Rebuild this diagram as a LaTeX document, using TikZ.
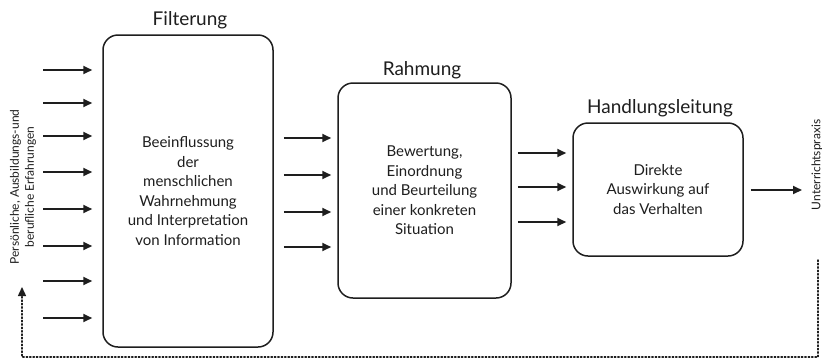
\documentclass[tikz,border=0pt]{standalone}
\usepackage{fontspec}
\setmainfont{Lato}
\usetikzlibrary{arrows.meta}
\definecolor{ink}{HTML}{1E1E1E}
\tikzset{
  stage/.style={draw=ink, line width=1.5pt, rounded corners=15pt, align=center,
    font=\fontsize{15}{19.5}\selectfont, text=ink, inner sep=0pt},
  title/.style={font=\fontsize{19}{22}\selectfont, text=ink},
  side/.style={font=\fontsize{12}{15}\selectfont, text=ink, align=center, rotate=90},
  arr/.style={draw=ink, line width=1.8pt, -{Triangle[length=9pt,width=8pt]}},
  fb/.style={draw=ink, line width=1.4pt, dotted, line cap=round, -{Triangle[length=9pt,width=8pt]}},
}
\begin{document}
\begin{tikzpicture}[x=1pt,y=-1pt]
\useasboundingbox (0,0) rectangle (822,360);
\fill[white] (0,0) rectangle (822,360);

% stages
\node[stage, minimum width=170pt, minimum height=312pt] (F) at (188,191)
  {Beeinflussung\\der\\menschlichen\\Wahrnehmung\\und Interpretation\\von Information};
\node[stage, minimum width=173pt, minimum height=215pt] (R) at (424.5,190.5)
  {Bewertung,\\Einordnung\\und Beurteilung\\einer konkreten\\Situation};
\node[stage, minimum width=170pt, minimum height=133pt] (H) at (658,189.5)
  {Direkte\\Auswirkung auf\\das Verhalten};

% titles
\node[title] (tF) at (190,20) {Filterung};
\node[title] (tR) at (422,70) {Rahmung};
\node[title] (tH) at (660,108) {Handlungsleitung};

% side labels
\node[side] (lin) at (23,187) {Persönliche, Ausbildungs-und\\berufliche Erfahrungen};
\node[side] (lout) at (817,165) {Unterrichtspraxis};

% inputs into Filterung
\foreach \i/\y in {1/70,2/103,3/136,4/172,5/209,6/246,7/281,8/318}{
  \coordinate (in\i) at (43,\y);
  \draw[arr, shorten >=10pt] (in\i) -- (in\i -| F.west);
}

% Filterung -> Rahmung
\foreach \i/\y in {1/138,2/175,3/212,4/247}{
  \coordinate (fr\i) at (F.east |- 0,\y);
  \draw[arr, shorten <=10pt, shorten >=6pt] (fr\i) -- (fr\i -| R.west);
}

% Rahmung -> Handlungsleitung
\foreach \i/\y in {1/153,2/187,3/222}{
  \coordinate (rh\i) at (R.east |- 0,\y);
  \draw[arr, shorten <=6pt, shorten >=6pt] (rh\i) -- (rh\i -| H.west);
}

% output
\coordinate (out) at (802,190);
\draw[arr, shorten <=7pt] (H.east |- out) -- (out);

% feedback loop
\coordinate (fb1) at (818,260);
\coordinate (fb2) at (818,357);
\coordinate (fb3) at (22,357);
\coordinate (fb4) at (22,287);
\draw[fb] (fb1) -- (fb2) -- (fb3) -- (fb4);
\end{tikzpicture}
\end{document}
